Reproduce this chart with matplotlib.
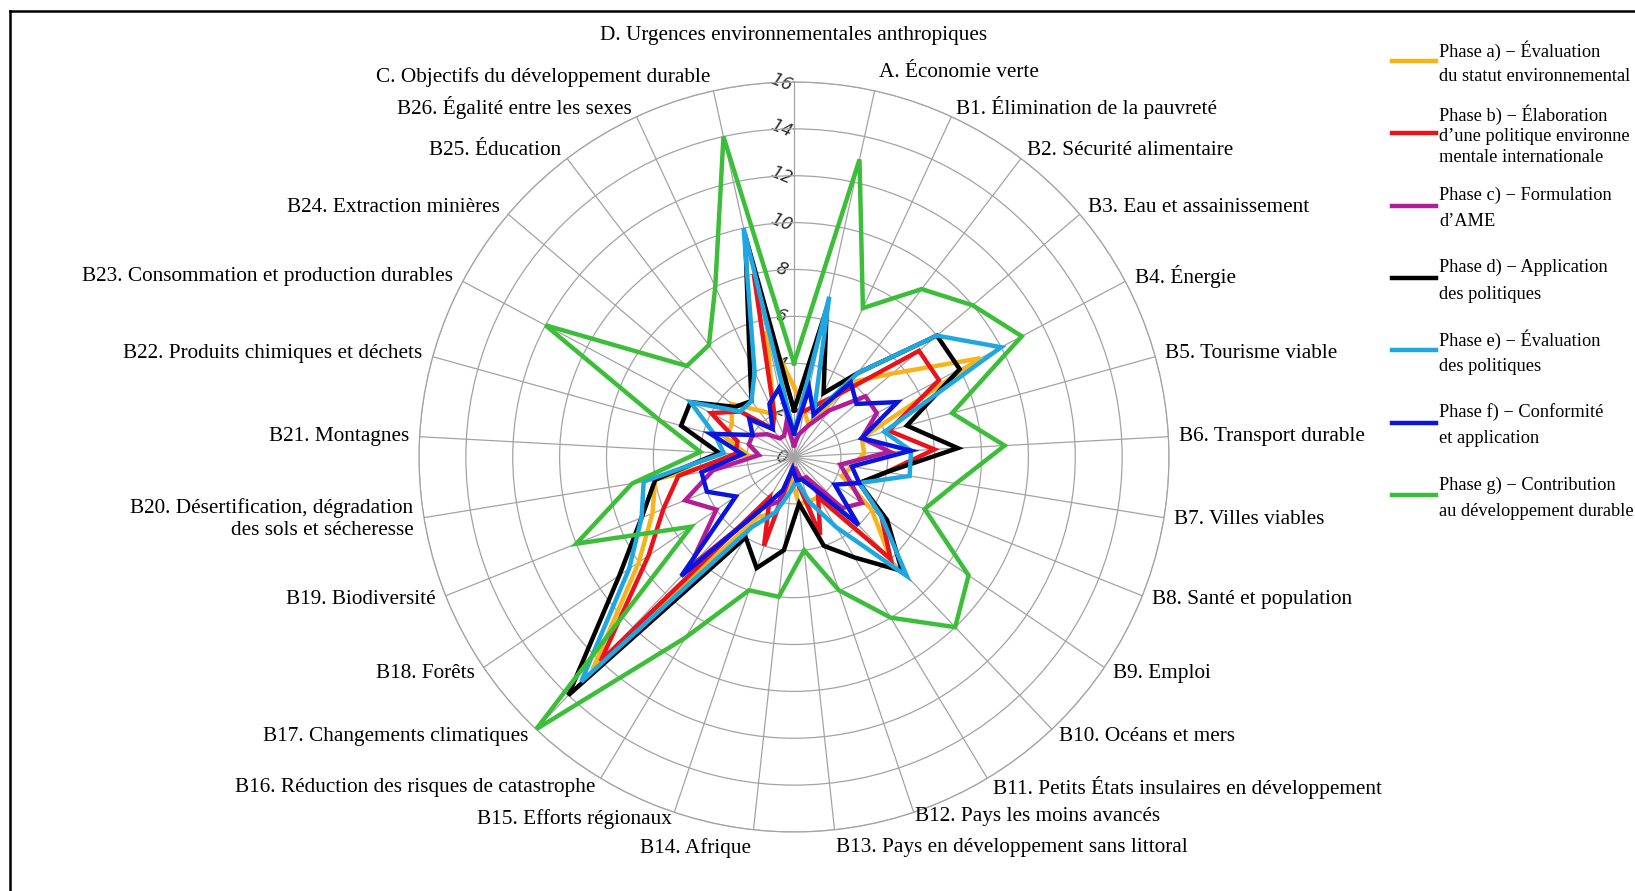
import numpy as np
import matplotlib
matplotlib.use("Agg")
import matplotlib.pyplot as plt
from matplotlib.lines import Line2D

# ---------------- data ----------------
categories = [
    "D. Urgences environnementales anthropiques",
    "A. Économie verte",
    "B1. Élimination de la pauvreté",
    "B2. Sécurité alimentaire",
    "B3. Eau et assainissement",
    "B4. Énergie",
    "B5. Tourisme viable",
    "B6. Transport durable",
    "B7. Villes viables",
    "B8. Santé et population",
    "B9. Emploi",
    "B10. Océans et mers",
    "B11. Petits États insulaires en développement",
    "B12. Pays les moins avancés",
    "B13. Pays en développement sans littoral",
    "B14. Afrique",
    "B15. Efforts régionaux",
    "B16. Réduction des risques de catastrophe",
    "B17. Changements climatiques",
    "B18. Forêts",
    "B19. Biodiversité",
    "B20. Désertification, dégradation\ndes sols et sécheresse",
    "B21. Montagnes",
    "B22. Produits chimiques et déchets",
    "B23. Consommation et production durables",
    "B24. Extraction minières",
    "B25. Éducation",
    "B26. Égalité entre les sexes",
    "C. Objectifs du développement durable",
]

phase_a = [3, 2, 1.5, 4, 5.5, 9, 3, 3, 2.5, 2.2, 4, 6, 2, 2, 2, 1, 2.5, 3, 12.5, 8, 6.5, 6, 2, 3, 3, 3.5, 2.5, 2, 5.5]
phase_b = [2, 2, 2.5, 3.5, 7, 7, 4.2, 6, 4, 3, 4.5, 6, 2, 3.5, 1, 0.5, 4, 2, 12, 7.5, 6, 5, 2.5, 2.5, 4, 3, 1.5, 2, 8]
phase_c = [0.5, 1, 1.5, 2.5, 4, 4, 3, 4.1, 2, 2.5, 3.5, 3, 1, 1, 0.5, 0.5, 2, 2.5, 6.5, 4, 5, 3.5, 1.5, 2, 2, 1.5, 1, 1, 1.5]
phase_d = [2, 6.5, 3, 4.5, 8, 8, 5, 7, 4, 3, 4.8, 6.7, 5, 4, 2, 4, 5, 4, 14, 9, 7, 6, 3.2, 5, 5, 3.3, 3, 4.5, 9.7]
phase_e = [1, 7, 2, 4.5, 8, 10, 4, 5, 5, 3, 4.5, 7, 3.5, 2, 1, 1.5, 2.5, 3.5, 13.2, 8.5, 7, 6.5, 3, 3.5, 5, 3, 3, 4, 10]
phase_f = [1, 3, 2, 4, 3.5, 5, 3, 5, 2.5, 3, 2.1, 4, 1.5, 1, 1, 0.5, 1.5, 2.5, 7, 3, 4, 4, 2.2, 3.7, 2, 2.5, 1.5, 2.5, 3]
phase_g = [4, 13, 7, 9, 10, 11, 7, 9, 7, 6, 9, 10, 8, 6, 4, 6, 6, 9, 16, 5.3, 10, 7, 4, 6, 12, 6, 6, 8, 14]

series_labels = [
    "Phase a) \u2212 Évaluation\ndu statut environnemental",
    "Phase b) \u2212 Élaboration\nd\u2019une politique environne\nmentale internationale",
    "Phase c) \u2212 Formulation\nd\u2019AME",
    "Phase d) \u2212 Application\ndes politiques",
    "Phase e) \u2212 Évaluation\ndes politiques",
    "Phase f) \u2212 Conformité\net application",
    "Phase g) \u2212 Contribution\nau développement durable",
]
series_values = [phase_a, phase_b, phase_c, phase_d, phase_e, phase_f, phase_g]
series_colors = ["#F6B41A", "#E8141C", "#B21C96", "#000000", "#1EA7E1", "#0A14DC", "#3DBE3A"]

radial_ticks = [0, 2, 4, 6, 8, 10, 12, 14, 16]

# ---------------- figure ----------------
W, H = 1635, 891
fig = plt.figure(figsize=(W / 100, H / 100), dpi=100)
fig.patch.set_facecolor("white")

cx, cy, R = 794, 457, 375  # pixel centre and outer radius
ax = fig.add_axes([(cx - R) / W, 1 - (cy + R) / H, 2 * R / W, 2 * R / H],
                  projection="polar")
ax.set_theta_zero_location("N")
ax.set_theta_direction(-1)
ax.set_ylim(0, 16)

n = len(categories)
theta = np.arange(n) * 2 * np.pi / n

grid_col = "#a3a3a3"
ax.set_xticks(theta)
ax.set_xticklabels([])
ax.set_yticks(radial_ticks[1:])
ax.set_yticklabels([])
ax.grid(True, color=grid_col, lw=0.9)
ax.spines["polar"].set_color(grid_col)
ax.spines["polar"].set_linewidth(0.9)
ax.tick_params(length=0)

# radial value labels along the top spoke
for r in radial_ticks:
    ax.annotate(str(r), xy=(0, r), xytext=(-13, 0), textcoords="offset pixels",
                ha="center", va="center", rotation=-22, fontsize=12.5,
                style="italic", color="#2e2e2e", zorder=1.5)

# data polygons
th_closed = np.append(theta, theta[0])
for vals, col in zip(series_values, series_colors):
    v = np.append(vals, vals[0])
    ax.plot(th_closed, v, color=col, lw=3.2, solid_joinstyle="miter", zorder=3)

# category labels (a few sit slightly farther / nearer, as in the reference)
label_r = {1: 16.8, 13: 16.2, 14: 16.75, 15: 16.8, 16: 16.3, 28: 16.6}
serif = "Liberation Serif"
for k, (t, lab) in enumerate(zip(theta, categories)):
    deg = np.degrees(t)
    rr = label_r.get(k, 16.45)
    if deg < 1e-6:
        ax.text(t, 18.0, lab, ha="center", va="center", fontsize=15.3,
                family=serif)
    elif deg < 180:
        ax.text(t, rr, lab, ha="left", va="center", fontsize=15.3,
                family=serif)
    else:
        ax.text(t, rr, lab, ha="right", va="center", fontsize=15.3,
                family=serif, multialignment="right")

# legend (manual, to follow the reference spacing)
leg_x0, leg_x1, leg_tx = 1392, 1436, 1439
leg_y0, leg_dy = 60.7, 72.4
for i, (lab, col) in enumerate(zip(series_labels, series_colors)):
    y = leg_y0 + i * leg_dy
    fig.add_artist(Line2D([leg_x0 / W, leg_x1 / W], [1 - y / H, 1 - y / H],
                          transform=fig.transFigure, color=col, lw=3.2))
    lines = lab.split("\n")
    step = 21.7 if len(lines) == 3 else 26.5
    for j, txt in enumerate(lines):
        ty = y + 3 + (j - (len(lines) - 1) / 2) * step
        fig.text(leg_tx / W, 1 - ty / H, txt, ha="left", va="center",
                 fontsize=13.2, family=serif)

# frame (left and top edges visible in the reference)
fig.add_artist(Line2D([10 / W, 10 / W], [0, 1 - 11 / H], transform=fig.transFigure,
                      color="black", lw=1.8))
fig.add_artist(Line2D([10 / W, 1], [1 - 11 / H, 1 - 11 / H], transform=fig.transFigure,
                      color="black", lw=1.8))

fig.savefig("out.png", dpi=100, facecolor="white")
